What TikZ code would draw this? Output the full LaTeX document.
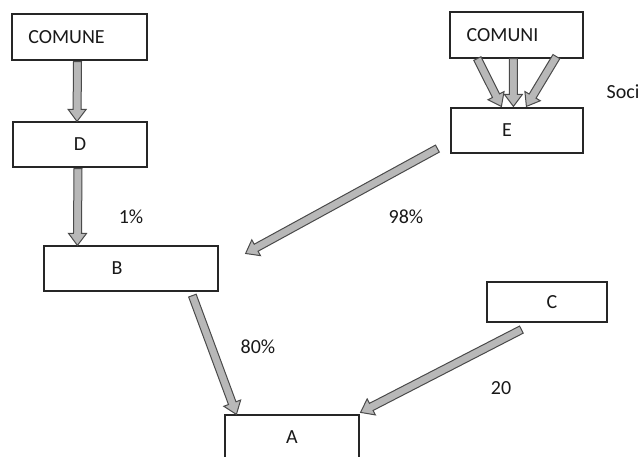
\documentclass[tikz,border=0pt]{standalone}
\usepackage{fontspec}
\setmainfont{Carlito}
\usetikzlibrary{calc}
\definecolor{fatfill}{HTML}{B8B8B8}
\definecolor{fatline}{HTML}{4A4A4A}
\tikzset{
  box/.style={draw=black!85, line width=1.2pt, inner sep=0pt, fill=white},
  fat/.style={fill=fatfill, draw=fatline, line width=1pt, line join=miter},
  lbl/.style={font=\fontsize{20}{24}\selectfont, text=black!90}
}
\newcommand\fatarrow[2]{%
  \coordinate (fah) at ($(#2)!12pt!(#1)$);
  \filldraw[fat] ($(#1)!4pt!90:(#2)$) -- ($(fah)!4pt!90:(#2)$) -- ($(fah)!9pt!90:(#2)$) -- (#2)
    -- ($(fah)!9pt!-90:(#2)$) -- ($(fah)!4pt!-90:(#2)$) -- ($(#1)!4pt!-90:(#2)$) -- cycle;}
\begin{document}
\begin{tikzpicture}[x=1pt,y=-1pt]
\useasboundingbox[fill=white] (0,0) rectangle (638,457);
% boxes
\node[box, minimum width=135pt, minimum height=46pt, label={[lbl, xshift=-13pt]center:COMUNE}] (comune) at (79.5,37) {};
\node[box, minimum width=134pt, minimum height=45pt, label={[lbl]center:D}] (d) at (80,144.5) {};
\node[box, minimum width=174pt, minimum height=45pt, label={[lbl, xshift=-14pt]center:B}] (b) at (131,268.5) {};
\node[box, minimum width=133pt, minimum height=46pt, label={[lbl, xshift=-14pt]center:COMUNI}] (comuni) at (516.5,35) {};
\node[box, minimum width=132pt, minimum height=45pt, label={[lbl, xshift=-10pt]center:E}] (e) at (517,130.5) {};
\node[box, minimum width=120pt, minimum height=40pt, label={[lbl, xshift=5pt]center:C}] (c) at (547,302) {};
\node[box, minimum width=134pt, minimum height=50pt, label={[lbl, yshift=3pt]center:A}] (a) at (292,440) {};
% texts
\node[lbl] (soci) at (623,92) {Soci};
\node[lbl] (p1) at (131,217) {1\%};
\node[lbl] (p98) at (406,217) {98\%};
\node[lbl] (p80) at (258,347) {80\%};
\node[lbl] (p20) at (501,388) {20};
% connector end points
\coordinate (s1) at ($(comune.south)+(-2,1)$);
\coordinate (t1) at ($(d.north)+(-3,0)$);
\coordinate (s2) at ($(d.south)+(-2,1)$);
\coordinate (t2) at ($(b.north west)+(34,0)$);
\coordinate (s3) at ($(comuni.south west)+(28,0)$);
\coordinate (t3) at ($(e.north west)+(51,-1)$);
\coordinate (s4) at ($(comuni.south west)+(64,0)$);
\coordinate (t4) at ($(e.north west)+(63,-1)$);
\coordinate (s5) at ($(comuni.south west)+(107,-2)$);
\coordinate (t5) at ($(e.north west)+(76,-1)$);
\coordinate (s6) at ($(e.south west)+(-13,-5)$);
\coordinate (t6) at ($(b.east)+(27,-15)$);
\coordinate (s7) at ($(b.south west)+(149,4)$);
\coordinate (t7) at ($(a.north west)+(12,0)$);
\coordinate (s8) at ($(c.south west)+(35,7)$);
\coordinate (t8) at ($(a.north east)+(1,-2)$);
% connectors
\fatarrow{s1}{t1}
\fatarrow{s2}{t2}
\fatarrow{s3}{t3}
\fatarrow{s4}{t4}
\fatarrow{s5}{t5}
\fatarrow{s6}{t6}
\fatarrow{s7}{t7}
\fatarrow{s8}{t8}
\end{tikzpicture}
\end{document}
